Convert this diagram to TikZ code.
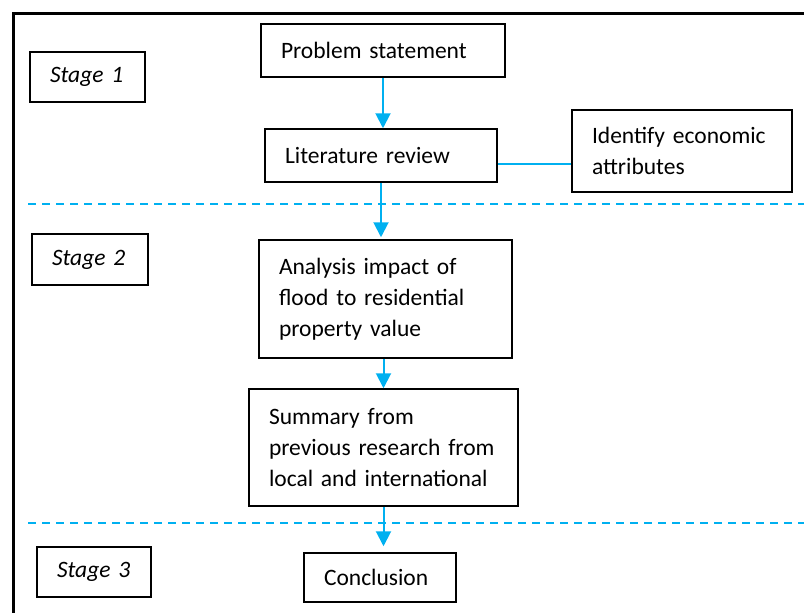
\documentclass[tikz,border=0pt]{standalone}
\usepackage{fontspec}
\setmainfont{Carlito}
\usetikzlibrary{arrows.meta}
\definecolor{flowblue}{RGB}{0,176,240}
\begin{document}
\begin{tikzpicture}[x=1pt,y=-1pt,
  box/.style={draw=black, line width=1.5pt, rectangle, inner xsep=20pt, inner ysep=0pt,
    align=left, font=\fontsize{23.5}{31}\selectfont},
  stagebox/.style={box, font=\fontsize{23.5}{31}\selectfont\itshape},
  flow/.style={draw=flowblue, line width=2pt, -{Triangle[length=15pt,width=15pt]}},
  link/.style={draw=flowblue, line width=2pt},
  divider/.style={draw=flowblue, line width=2pt, dash pattern=on 8pt off 6pt},
  frame/.style={draw=black, line width=3pt}
]
\useasboundingbox (0,0) rectangle (804,613);
% frame
\draw[frame] (804,13) -- (13,13) -- (13,613);
% stage labels
\node[stagebox, text width=75pt, minimum height=50pt] (s1) at (87.5,77) {\mbox{Stage 1}};
\node[stagebox, text width=76pt, minimum height=51pt] (s2) at (90,259.5) {\mbox{Stage 2}};
\node[stagebox, text width=74pt, minimum height=50pt] (s3) at (94,572) {\mbox{Stage 3}};
% flow boxes
\node[box, text width=204pt, minimum height=53pt] (ps) at (383,50.5) {\mbox{Problem statement}};
\node[box, text width=192pt, minimum height=53pt] (lit) at (381,155.5) {\mbox{Literature review}};
\node[box, text width=180pt, minimum height=82pt] (ida) at (682,151) {\mbox{Identify economic}\\\mbox{attributes}};
\node[box, text width=213pt, minimum height=118pt] (ana) at (385.5,299) {\mbox{Analysis impact of}\\\mbox{flood to residential}\\\mbox{property value}};
\node[box, text width=229pt, minimum height=117pt] (sum) at (383.5,447.5) {\mbox{Summary from}\\\mbox{previous research from}\\\mbox{local and international}};
\node[box, text width=112pt, minimum height=49pt] (con) at (380,577.5) {\mbox{Conclusion}};
% dividers
\coordinate (d1a) at (28,204);
\coordinate (d1b) at (804,204);
\coordinate (d2a) at (28,523);
\coordinate (d2b) at (804,523);
\draw[divider] (d1a) -- (d1b);
\draw[divider] (d2a) -- (d2b);
% connectors
\draw[flow] (ps.south) -- (ps.south |- lit.north);
\draw[flow, shorten >=2pt] (lit.south) -- (lit.south |- ana.north);
\draw[flow] (sum.north |- ana.south) -- (sum.north);
\draw[flow, shorten >=6pt] (sum.south) -- (sum.south |- con.north);
\draw[link] ([yshift=-8.5pt]lit.east) -- ([yshift=-8.5pt]lit.east -| ida.west);
\end{tikzpicture}
\end{document}
